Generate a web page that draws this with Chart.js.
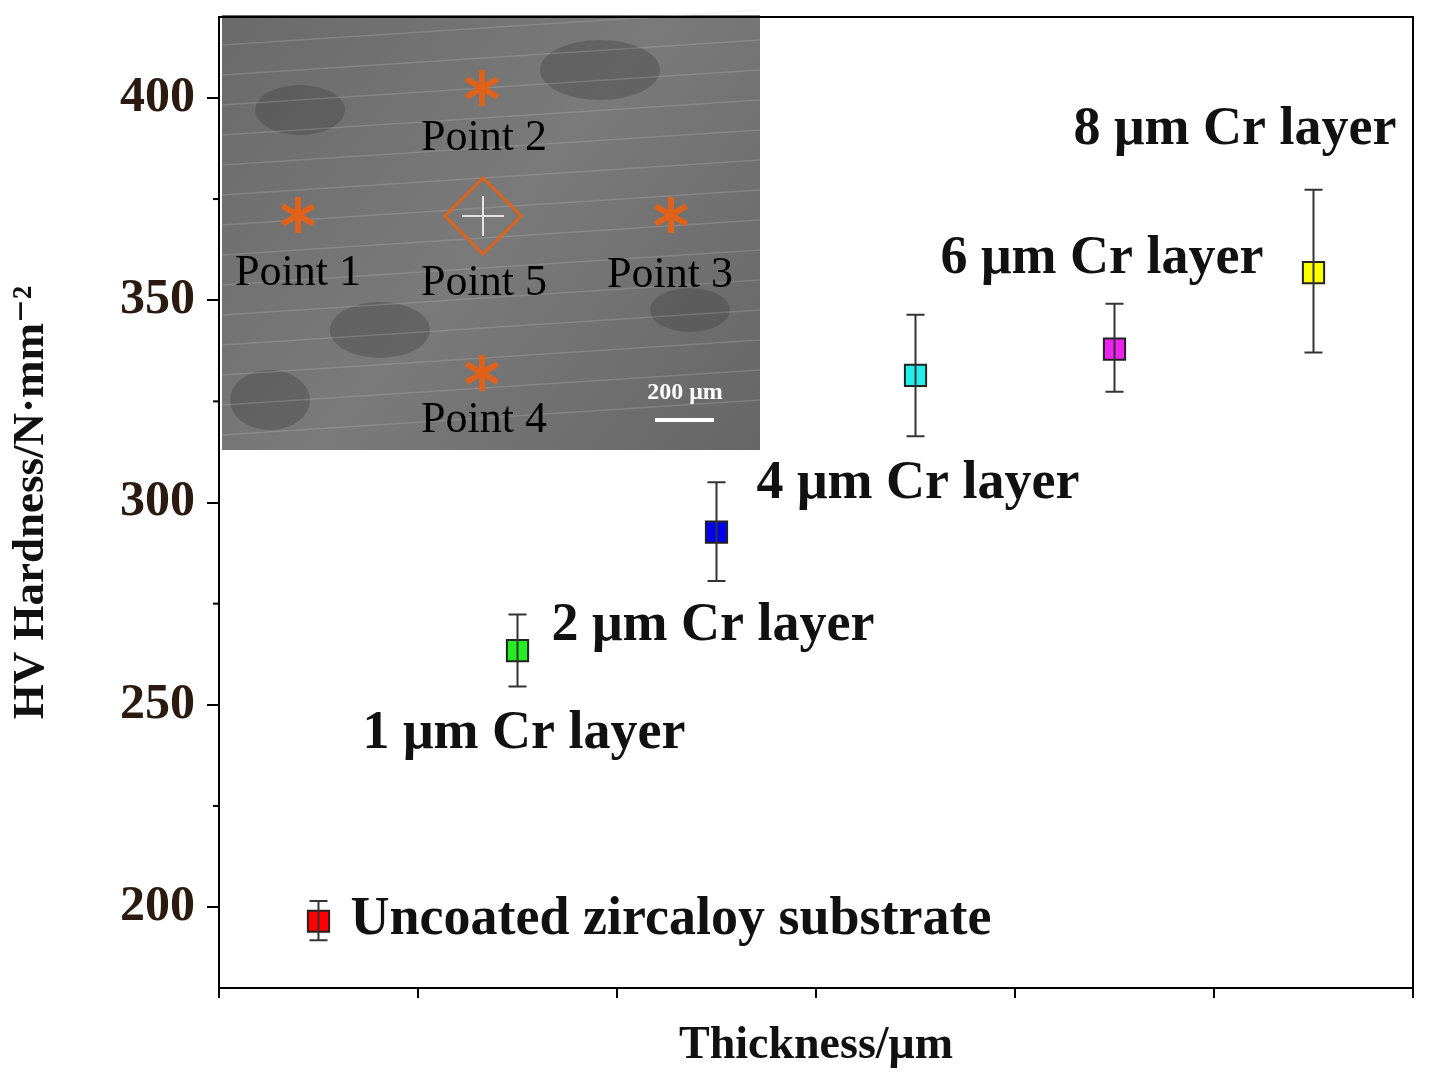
<!DOCTYPE html>
<html>
<head>
<meta charset="utf-8">
<script src="https://cdn.jsdelivr.net/npm/chart.js@4"></script>
<style>
  html, body { margin: 0; padding: 0; background: #fff; }
  #wrap { width: 1430px; height: 1078px; }
</style>
</head>
<body>
<div id="wrap"><canvas id="hvChart" width="1430" height="1078"></canvas></div>
<script>
// Data
const sampleLabels = ['Uncoated zircaloy substrate', '1 μm Cr layer', '2 μm Cr layer', '4 μm Cr layer', '6 μm Cr layer', '8 μm Cr layer'];
const xPositions = [0.5, 1.5, 2.5, 3.5, 4.5, 5.5];
const hardness = [196.5, 263.4, 292.7, 331.4, 337.9, 356.8];
const errLow = [191.8, 254.5, 280.6, 316.4, 327.4, 337.1];
const errHigh = [201.5, 272.3, 305.0, 346.4, 349.1, 377.3];
const markerColors = ['#ff0000', '#22ee22', '#0000ee', '#22eeee', '#ee22ee', '#ffff00'];
const yTicks = [200, 250, 300, 350, 400];

// label offsets from each point (px), [dx, dy] to left/middle of text
const labelOffsets = [[32, -1], [-155, 83], [-165, 94], [-159, 109], [-174, -90], [-240, -143]];

const serif = '"Liberation Serif", "DejaVu Serif", serif';

const errorBars = {
    id: 'errorBars',
    afterDatasetsDraw(chart) {
        const { ctx, scales: { x, y } } = chart;
        ctx.save();
        ctx.strokeStyle = '#333';
        ctx.lineWidth = 2;
        xPositions.forEach((xv, i) => {
            const px = x.getPixelForValue(xv);
            const top = y.getPixelForValue(errHigh[i]);
            const bot = y.getPixelForValue(errLow[i]);
            ctx.beginPath();
            ctx.moveTo(px, top); ctx.lineTo(px, bot);
            ctx.moveTo(px - 9, top); ctx.lineTo(px + 9, top);
            ctx.moveTo(px - 9, bot); ctx.lineTo(px + 9, bot);
            ctx.stroke();
        });
        ctx.restore();
    }
};

const decorations = {
    id: 'decorations',
    beforeDatasetsDraw(chart) {
        const { ctx } = chart;
        ctx.save();
        // inset micrograph placeholder
        const ix = 222, iy = 15, iw = 538, ih = 435;
        const g = ctx.createLinearGradient(ix, iy, ix + iw, iy + ih);
        g.addColorStop(0, '#6a6a6a');
        g.addColorStop(0.5, '#7a7a7a');
        g.addColorStop(1, '#666');
        ctx.fillStyle = g;
        ctx.fillRect(ix, iy, iw, ih);
        ctx.fillStyle = 'rgba(60,60,60,0.35)';
        [[300, 110, 45, 25], [600, 70, 60, 30], [380, 330, 50, 28], [690, 310, 40, 22], [270, 400, 40, 30]].forEach(([cx, cy, rx, ry]) => {
            ctx.beginPath(); ctx.ellipse(cx, cy, rx, ry, 0, 0, Math.PI * 2); ctx.fill();
        });
        ctx.strokeStyle = 'rgba(200,200,200,0.22)';
        ctx.lineWidth = 1.5;
        for (let k = 0; k < 14; k++) {
            const sy = iy + 20 + k * 30;
            ctx.beginPath();
            ctx.moveTo(ix, sy + 10);
            ctx.lineTo(ix + iw, sy - 25);
            ctx.stroke();
        }
        const orange = '#e0621a';
        const star = (cx, cy) => {
            ctx.strokeStyle = orange; ctx.lineWidth = 6;
            for (let a = 0; a < 3; a++) {
                const t = Math.PI / 2 + a * Math.PI / 3;
                ctx.beginPath();
                ctx.moveTo(cx + 18 * Math.cos(t), cy + 18 * Math.sin(t));
                ctx.lineTo(cx - 18 * Math.cos(t), cy - 18 * Math.sin(t));
                ctx.stroke();
            }
        };
        star(482, 88); star(298, 215); star(671, 215); star(482, 373);
        ctx.strokeStyle = orange; ctx.lineWidth = 3;
        ctx.beginPath();
        ctx.moveTo(483, 178); ctx.lineTo(521, 216); ctx.lineTo(483, 254); ctx.lineTo(445, 216); ctx.closePath();
        ctx.stroke();
        ctx.strokeStyle = 'rgba(255,255,255,0.8)'; ctx.lineWidth = 2;
        ctx.beginPath(); ctx.moveTo(462, 216); ctx.lineTo(504, 216); ctx.moveTo(483, 196); ctx.lineTo(483, 236); ctx.stroke();
        ctx.fillStyle = '#000';
        ctx.font = '44px ' + serif;
        ctx.textAlign = 'center'; ctx.textBaseline = 'middle';
        ctx.fillText('Point 2', 484, 138);
        ctx.fillText('Point 1', 298, 273);
        ctx.fillText('Point 5', 484, 283);
        ctx.fillText('Point 3', 670, 275);
        ctx.fillText('Point 4', 484, 420);
        ctx.fillStyle = '#fff';
        ctx.font = 'bold 24px ' + serif;
        ctx.fillText('200 μm', 685, 393);
        ctx.fillRect(655, 418, 59, 4);
        ctx.restore();
    },
    afterDraw(chart) {
        const { ctx, chartArea: a, scales: { x, y } } = chart;
        ctx.save();
        ctx.strokeStyle = '#000'; ctx.lineWidth = 2;
        ctx.beginPath();
        ctx.moveTo(a.left, a.top); ctx.lineTo(a.right, a.top); ctx.lineTo(a.right, a.bottom);
        ctx.stroke();
        for (let v = 225; v < 420; v += 50) {
            const py = y.getPixelForValue(v);
            ctx.beginPath(); ctx.moveTo(a.left, py); ctx.lineTo(a.left - 6, py); ctx.stroke();
        }
        ctx.fillStyle = '#111';
        ctx.font = 'bold 54px ' + serif;
        ctx.textAlign = 'left'; ctx.textBaseline = 'middle';
        sampleLabels.forEach((lbl, i) => {
            const px = x.getPixelForValue(xPositions[i]);
            const py = y.getPixelForValue(hardness[i]);
            ctx.fillText(lbl, px + labelOffsets[i][0], py + labelOffsets[i][1]);
        });
        ctx.restore();
    }
};

new Chart(document.getElementById('hvChart'), {
    type: 'scatter',
    data: {
        datasets: [{
            data: xPositions.map((xv, i) => ({ x: xv, y: hardness[i] })),
            pointStyle: 'rect',
            pointRadius: 15,
            pointBackgroundColor: markerColors,
            pointBorderColor: '#222',
            pointBorderWidth: 2
        }]
    },
    options: {
        responsive: false,
        animation: false,
        layout: { padding: { top: 15, right: 14, left: 0, bottom: 0 } },
        plugins: { legend: { display: false }, tooltip: { enabled: false } },
        scales: {
            x: {
                min: 0, max: 6,
                border: { color: '#000', width: 2 },
                grid: { drawOnChartArea: false, tickLength: 10, color: '#000', lineWidth: 2 },
                ticks: { stepSize: 1, callback: () => '' },
                title: {
                    display: true, text: 'Thickness/μm', color: '#111',
                    font: { family: serif, size: 46, weight: 'bold' }, padding: { top: 10 }
                },
                afterFit: (s) => { s.height = 90; s.paddingLeft = 0; s.paddingRight = 0; }
            },
            y: {
                min: 180, max: 420,
                border: { color: '#000', width: 2 },
                grid: { drawOnChartArea: false, tickLength: 12, color: '#000', lineWidth: 2 },
                afterBuildTicks: (s) => { s.ticks = yTicks.map(v => ({ value: v })); },
                ticks: { color: '#2a1a10', font: { family: serif, size: 50, weight: 'bold' }, padding: 12 },
                title: {
                    display: true, text: 'HV Hardness/N·mm⁻²', color: '#111',
                    font: { family: serif, size: 45, weight: 'bold' }, padding: { bottom: 4 }
                },
                afterFit: (s) => { s.width = 219; s.paddingTop = 0; s.paddingBottom = 0; }
            }
        }
    },
    plugins: [decorations, errorBars]
});
</script>
</body>
</html>
